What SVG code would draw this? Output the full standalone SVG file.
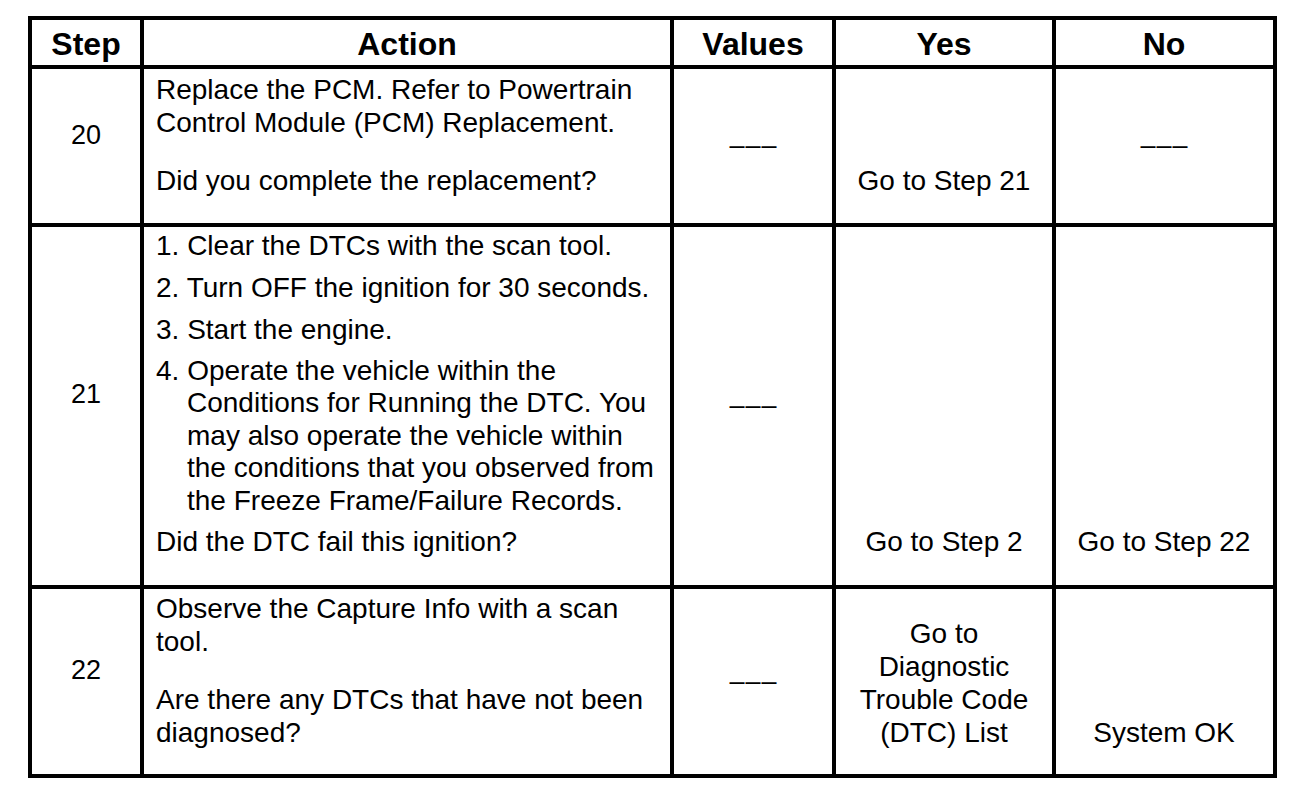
<svg xmlns="http://www.w3.org/2000/svg" width="1312" height="802" viewBox="0 0 1312 802">
<style>
text{font-family:"Liberation Sans",Arial,Helvetica,sans-serif;fill:#000;}
.h{font-size:32px;font-weight:bold;text-anchor:middle;}
.t{font-size:28px;}
.c{font-size:28px;text-anchor:middle;}
.d{font-size:27px;text-anchor:middle;letter-spacing:1px;}
.n{font-size:27px;text-anchor:middle;}
.ln{stroke:#000;stroke-width:4;fill:none;}
</style>
<rect width="1312" height="802" fill="#fff"/>
<g id="grid">
<rect class="ln" x="30" y="18" width="1245" height="758"/>
<line class="ln" x1="142" y1="18" x2="142" y2="776"/>
<line class="ln" x1="672" y1="18" x2="672" y2="776"/>
<line class="ln" x1="834" y1="18" x2="834" y2="776"/>
<line class="ln" x1="1054" y1="18" x2="1054" y2="776"/>
<line class="ln" x1="30" y1="67" x2="1275" y2="67"/>
<line class="ln" x1="30" y1="225" x2="1275" y2="225"/>
<line class="ln" x1="30" y1="587" x2="1275" y2="587"/>
</g>
<g id="header">
<text class="h" x="86" y="55">Step</text>
<text class="h" x="407" y="55">Action</text>
<text class="h" x="753" y="55">Values</text>
<text class="h" x="944" y="55">Yes</text>
<text class="h" x="1164" y="55">No</text>
</g>
<g id="row20">
<text class="n" x="86" y="143.5">20</text>
<text class="t" x="156" y="99">Replace the PCM. Refer to Powertrain</text>
<text class="t" x="156" y="131.5">Control Module (PCM) Replacement.</text>
<text class="t" x="156" y="190">Did you complete the replacement?</text>
<text class="d" x="753.5" y="153.5">–––</text>
<text class="c" x="944" y="190">Go to Step 21</text>
<text class="d" x="1164.5" y="153.5">–––</text>
</g>
<g id="row21">
<text class="n" x="86" y="402.5">21</text>
<text class="t" x="156" y="255">1. Clear the DTCs with the scan tool.</text>
<text class="t" x="156" y="297">2. Turn OFF the ignition for 30 seconds.</text>
<text class="t" x="156" y="338.5">3. Start the engine.</text>
<text class="t" x="156" y="379.5">4. Operate the vehicle within the</text>
<text class="t" x="187" y="412">Conditions for Running the DTC. You</text>
<text class="t" x="187" y="444.5">may also operate the vehicle within</text>
<text class="t" x="187" y="477">the conditions that you observed from</text>
<text class="t" x="187" y="509.5">the Freeze Frame/Failure Records.</text>
<text class="t" x="156" y="551">Did the DTC fail this ignition?</text>
<text class="d" x="753.5" y="414">–––</text>
<text class="c" x="944" y="551">Go to Step 2</text>
<text class="c" x="1164" y="551">Go to Step 22</text>
</g>
<g id="row22">
<text class="n" x="86" y="678.5">22</text>
<text class="t" x="156" y="618">Observe the Capture Info with a scan</text>
<text class="t" x="156" y="650.5">tool.</text>
<text class="t" x="156" y="709">Are there any DTCs that have not been</text>
<text class="t" x="156" y="741.5">diagnosed?</text>
<text class="d" x="753.5" y="689.5">–––</text>
<text class="c" x="944" y="643">Go to</text>
<text class="c" x="944" y="676">Diagnostic</text>
<text class="c" x="944" y="709">Trouble Code</text>
<text class="c" x="944" y="741.5">(DTC) List</text>
<text class="c" x="1164" y="741.5">System OK</text>
</g>
</svg>
